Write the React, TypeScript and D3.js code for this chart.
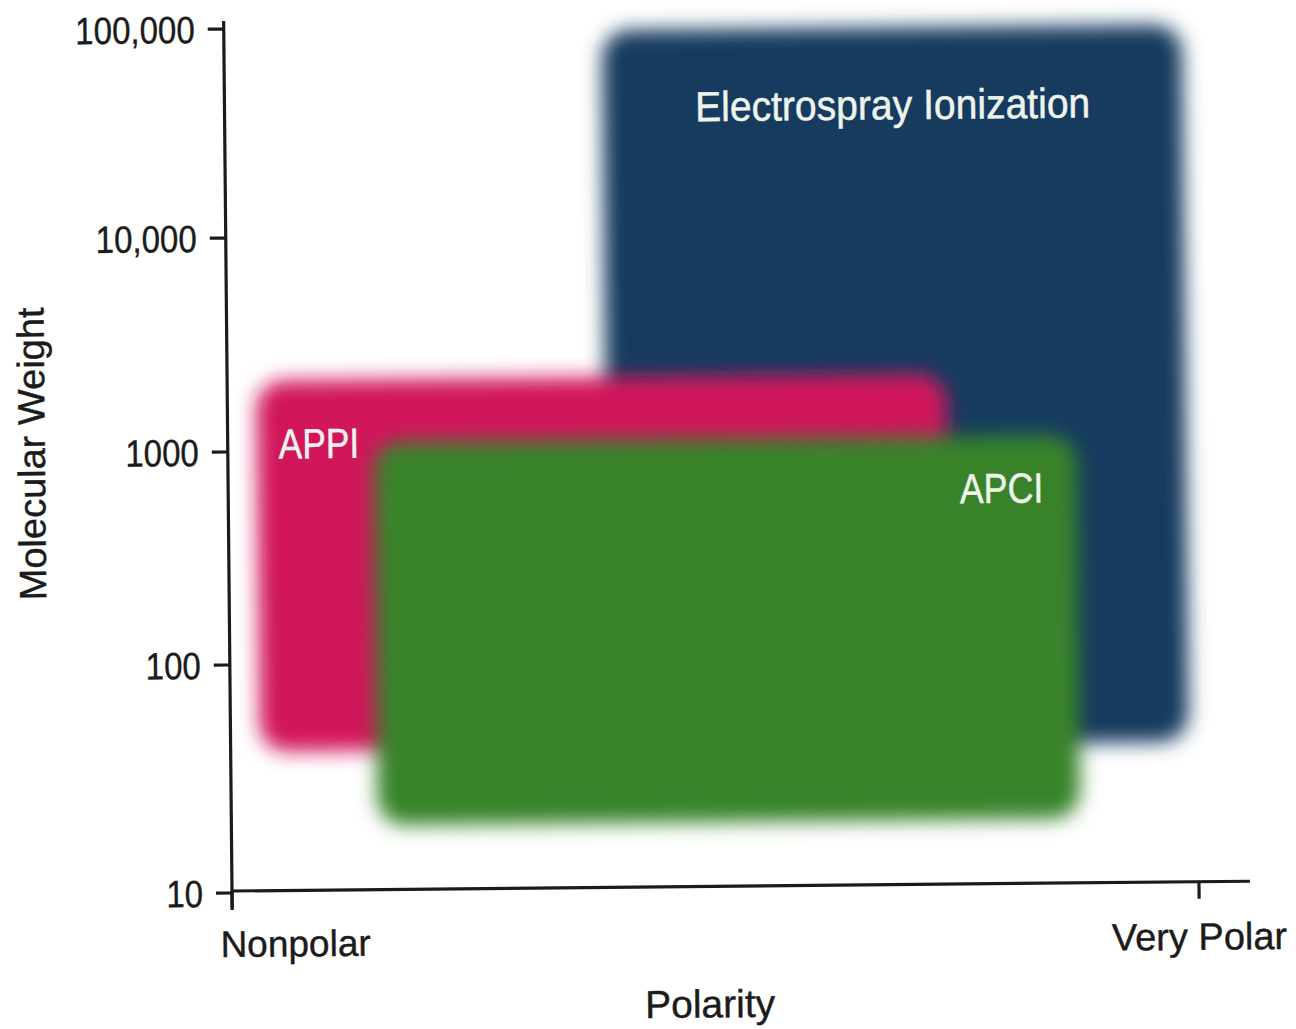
import React from 'react';
import * as d3 from 'd3';

// ---- data ----
const yTickValues = [10, 100, 1000, 10000, 100000];
const yTickLabels = ['10', '100', '1000', '10,000', '100,000'];
const xTickValues = [0, 1];
const xTickLabels = ['Nonpolar', 'Very Polar'];
const regionNames = ['Electrospray Ionization', 'APPI', 'APCI'];
const regionPolarityMin = [0.391, 0.03, 0.151];
const regionPolarityMax = [0.991, 0.744, 0.878];
const regionMwMin = [42, 41.5, 19.5];
const regionMwMax = [95000, 2150, 1100];
const regionColors = ['#143a5f', '#d1155c', '#37832b'];
const xAxisTitle = 'Polarity';
const yAxisTitle = 'Molecular Weight';

const W = 1296;
const H = 1029;

export default function App() {
  const x = d3.scaleLinear().domain([0, 1]).range([232, 1199]);
  const y = d3.scaleLog().domain(yTickValues).range([893, 665, 452, 238, 29]);

  const labelFont = "'Liberation Sans', Arial, sans-serif";
  const ink = '#1b1b1b';

  // label placement per region (style)
  const labelPlacement = [
    (x0: number, x1: number, y0: number) => ({ x: (x0 + x1) / 2, y: y0 + 92, anchor: 'middle', s: 0.93 }),
    (x0: number, x1: number, y0: number) => ({ x: x0 + 22, y: y0 + 78, anchor: 'start', s: 0.84 }),
    (x0: number, x1: number, y0: number) => ({ x: x1 - 34, y: y0 + 67, anchor: 'end', s: 0.85 }),
  ];

  return (
    <svg width={W} height={H} style={{ position: 'absolute', left: 0, top: 0, background: '#fff' }}>
      <defs>
        <filter id="soft" x="-15%" y="-15%" width="130%" height="130%">
          <feGaussianBlur stdDeviation="9.5" />
        </filter>
      </defs>
      <rect x={0} y={0} width={W} height={H} fill="#fff" />
      <g transform="rotate(-0.55, 232, 891)">
        {regionNames.map((name, i) => {
          const x0 = x(regionPolarityMin[i]);
          const x1 = x(regionPolarityMax[i]);
          const y0 = y(regionMwMax[i]);
          const y1 = y(regionMwMin[i]);
          return (
            <rect
              key={'r' + i}
              x={x0}
              y={y0}
              width={x1 - x0}
              height={y1 - y0}
              rx={28}
              ry={28}
              fill={regionColors[i]}
              filter="url(#soft)"
            />
          );
        })}
        {regionNames.map((name, i) => {
          const x0 = x(regionPolarityMin[i]);
          const x1 = x(regionPolarityMax[i]);
          const y0 = y(regionMwMax[i]);
          const p = labelPlacement[i](x0, x1, y0);
          return (
            <text
              key={'t' + i}
              transform={`translate(${p.x},${p.y}) scale(${p.s},1)`}
              textAnchor={p.anchor as any}
              fontFamily={labelFont}
              fontSize={42}
              fill="#eef3ec"
              stroke="#eef3ec"
              strokeWidth={0.5}
            >
              {name}
            </text>
          );
        })}

        {/* y axis */}
        <line x1={232} x2={232} y1={y(100000) - 8} y2={910} stroke={ink} strokeWidth={3.2} />
        {yTickValues.map((v, i) => (
          <g key={'yt' + i}>
            <line x1={216} x2={232} y1={y(v)} y2={y(v)} stroke={ink} strokeWidth={3.2} />
            <text
              transform={`translate(203,${y(v)}) scale(0.87,1)`}
              dy="0.36em"
              textAnchor="end"
              fontFamily={labelFont}
              fontSize={38}
              fill={ink}
              stroke={ink}
              strokeWidth={0.4}
            >
              {yTickLabels[i]}
            </text>
          </g>
        ))}

        {/* x axis */}
        <line x1={232} x2={1250} y1={891} y2={891} stroke={ink} strokeWidth={3.2} />
        {xTickValues.map((v, i) => (
          <g key={'xt' + i}>
            <line x1={x(v)} x2={x(v)} y1={891} y2={908} stroke={ink} strokeWidth={3.2} />
            <text
              x={i === 0 ? x(v) - 12 : x(v)}
              y={i === 0 ? 957 : 959}
              textAnchor={i === 0 ? 'start' : 'middle'}
              fontFamily={labelFont}
              fontSize={i === 0 ? 37 : 38}
              fill={ink}
              stroke={ink}
              strokeWidth={0.4}
            >
              {xTickLabels[i]}
            </text>
          </g>
        ))}

        <text x={709} y={1022} textAnchor="middle" fontFamily={labelFont} fontSize={39} fill={ink} stroke={ink} strokeWidth={0.4}>
          {xAxisTitle}
        </text>
        <text
          transform="translate(49, 452) rotate(-90)"
          textAnchor="middle"
          fontFamily={labelFont}
          fontSize={38}
          fill={ink}
          stroke={ink}
          strokeWidth={0.4}
        >
          {yAxisTitle}
        </text>
      </g>
    </svg>
  );
}
